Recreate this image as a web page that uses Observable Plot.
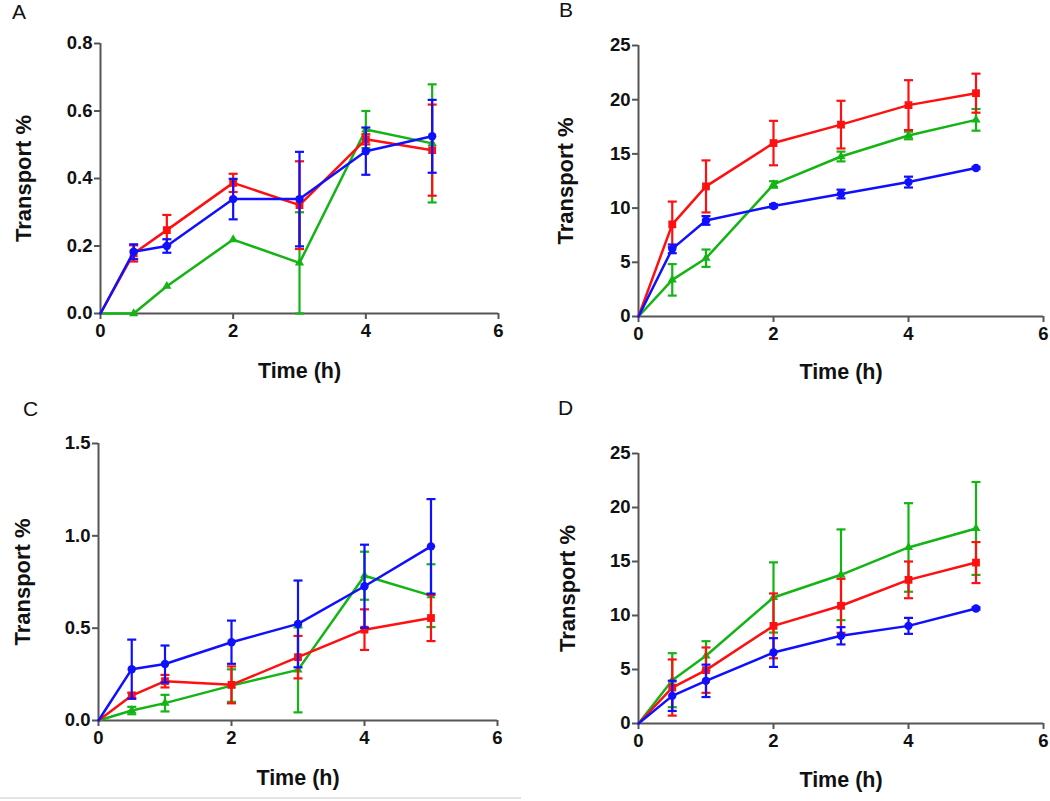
<!DOCTYPE html>
<html>
<head>
<meta charset="utf-8">
<script src="https://cdn.jsdelivr.net/npm/d3@7"></script>
<script src="https://cdn.jsdelivr.net/npm/@observablehq/plot@0.6"></script>
<style>
  html, body { margin: 0; padding: 0; background: #fff; }
  body { width: 1050px; height: 801px; position: relative; overflow: hidden; font-family: "Liberation Sans", Arial, sans-serif; }
  .panel { position: absolute; }
  .letter { position: absolute; font-size: 21px; font-family: "Liberation Sans", Arial, sans-serif; color: #111; }
  .rule { position: absolute; left: 0; top: 797px; width: 521px; height: 2px; background: #e4e4e4; }
</style>
</head>
<body>
<script>
// ---------- data ----------
const times = [0, 0.5, 1, 2, 3, 4, 5];
const xTicks = [0, 2, 4, 6];
const panelLetters = ["A", "B", "C", "D"];
const seriesNames = ["green", "red", "blue"];
const seriesColors = ["#14b414", "#ff1010", "#1010ff"];
const seriesSymbols = ["triangle", "square", "circle"];
const xLabel = "Time (h)";
const yLabel = "Transport %";

// Panel A
const aGreen = [0, 0, 0.081, 0.219, 0.15, 0.545, 0.504];
const aGreenErr = [0, 0, 0, 0, 0.15, 0.055, 0.175];
const aRed = [0, 0.178, 0.247, 0.387, 0.321, 0.516, 0.484];
const aRedErr = [0, 0.024, 0.045, 0.027, 0.13, 0.015, 0.135];
const aBlue = [0, 0.183, 0.2, 0.339, 0.339, 0.481, 0.525];
const aBlueErr = [0, 0.022, 0.02, 0.06, 0.14, 0.07, 0.108];
const aTicks = [0, 0.2, 0.4, 0.6, 0.8];

// Panel B
const bGreen = [0, 3.38, 5.38, 12.18, 14.76, 16.7, 18.14];
const bGreenErr = [0, 1.45, 0.8, 0.3, 0.45, 0.35, 1.0];
const bRed = [0, 8.5, 12.0, 16.0, 17.7, 19.5, 20.6];
const bRedErr = [0, 2.1, 2.4, 2.05, 2.2, 2.3, 1.8];
const bBlue = [0, 6.24, 8.86, 10.2, 11.3, 12.4, 13.7];
const bBlueErr = [0, 0.4, 0.4, 0.15, 0.4, 0.5, 0.1];
const bTicks = [0, 5, 10, 15, 20, 25];

// Panel C
const cGreen = [0, 0.054, 0.094, 0.189, 0.274, 0.784, 0.676];
const cGreenErr = [0, 0.02, 0.045, 0.088, 0.23, 0.13, 0.17];
const cRed = [0, 0.135, 0.213, 0.193, 0.343, 0.492, 0.555];
const cRedErr = [0, 0.015, 0.034, 0.1, 0.115, 0.11, 0.125];
const cBlue = [0, 0.278, 0.306, 0.424, 0.523, 0.727, 0.943];
const cBlueErr = [0, 0.16, 0.1, 0.117, 0.235, 0.225, 0.256];
const cTicks = [0, 0.5, 1.0, 1.5];

// Panel D
const dGreen = [0, 4.01, 6.27, 11.67, 13.77, 16.3, 18.06];
const dGreenErr = [0, 2.5, 1.35, 3.25, 4.2, 4.1, 4.3];
const dRed = [0, 3.33, 4.94, 9.04, 10.9, 13.3, 14.9];
const dRedErr = [0, 2.6, 2.1, 3.0, 2.5, 1.7, 1.9];
const dBlue = [0, 2.56, 3.95, 6.57, 8.12, 9.04, 10.65];
const dBlueErr = [0, 1.4, 1.5, 1.33, 0.8, 0.74, 0.1];
const dTicks = [0, 5, 10, 15, 20, 25];

// ---------- drawing ----------
const capSymbol = {
  draw(context) {
    context.moveTo(-4.5, 0);
    context.lineTo(4.5, 0);
  }
};

const axisColor = "#555";
const FONT = "Liberation Sans, Arial, sans-serif";

function rowsFor(values, errs, name) {
  return times.map((t, i) => ({t, v: values[i], e: errs[i], series: name}));
}

function makePanel(cfg) {
  const seriesData = [
    rowsFor(cfg.green, cfg.greenErr, "green"),
    rowsFor(cfg.red, cfg.redErr, "red"),
    rowsFor(cfg.blue, cfg.blueErr, "blue")
  ];
  const marks = [
    Plot.ruleY([0], {stroke: axisColor, strokeWidth: 2}),
    Plot.ruleX([0], {stroke: axisColor, strokeWidth: 2}),
    Plot.axisX({ticks: xTicks, tickSize: 6, tickPadding: 4, fontSize: 18.5, fontWeight: "bold", stroke: axisColor, strokeWidth: 2, fill: "#111", label: null, tickFormat: d3.format("d")}),
    Plot.axisY({ticks: cfg.ticks, tickSize: 6, tickPadding: 2, fontSize: 18.5, fontWeight: "bold", stroke: axisColor, strokeWidth: 2, fill: "#111", label: null, tickFormat: cfg.fmt}),
    Plot.text([xLabel], {frameAnchor: "bottom", dy: cfg.timeDy, lineAnchor: "middle", fontSize: 21.5, fontWeight: "bold", fill: "#111"}),
    Plot.text([yLabel], {frameAnchor: "left", dx: cfg.yLabelDx, rotate: -90, lineAnchor: "middle", textAnchor: "middle", fontSize: 22, fontWeight: "bold", fill: "#111"})
  ];
  seriesData.forEach((rows, k) => {
    const col = seriesColors[k];
    const withErr = rows.filter(d => d.e > 0);
    const pts = rows.filter(d => d.t > 0);
    marks.push(
      Plot.line(rows, {x: "t", y: "v", stroke: col, strokeWidth: 2.5}),
      Plot.ruleX(withErr, {x: "t", y1: d => d.v - d.e, y2: d => d.v + d.e, stroke: col, strokeWidth: 2.2}),
      Plot.dot(withErr, {x: "t", y: d => d.v + d.e, symbol: capSymbol, r: 5, stroke: col, strokeWidth: 2.2, fill: "none"}),
      Plot.dot(withErr, {x: "t", y: d => d.v - d.e, symbol: capSymbol, r: 5, stroke: col, strokeWidth: 2.2, fill: "none"}),
      Plot.dot(pts, {x: "t", y: "v", symbol: seriesSymbols[k], r: k === 0 ? 3.4 : (k === 1 ? 4.4 : 4.2), fill: col, stroke: "none"})
    );
  });
  const svg = Plot.plot({
    width: cfg.w, height: cfg.h,
    marginLeft: cfg.ml, marginRight: cfg.mr, marginTop: cfg.mt, marginBottom: cfg.mb,
    x: {domain: [0, 6], axis: null},
    y: {domain: [0, cfg.ticks[cfg.ticks.length - 1]], axis: null},
    style: {fontFamily: FONT, background: "transparent", overflow: "visible"},
    marks
  });
  const wrap = document.createElement("div");
  wrap.className = "panel";
  wrap.style.left = cfg.left + "px";
  wrap.style.top = cfg.top + "px";
  wrap.appendChild(svg);
  document.body.appendChild(wrap);
  const letter = document.createElement("div");
  letter.className = "letter";
  letter.textContent = cfg.letter;
  letter.style.left = cfg.lx + "px";
  letter.style.top = cfg.ly + "px";
  document.body.appendChild(letter);
}

const fmt1 = d3.format(".1f");
const fmt0 = d3.format("d");

makePanel({letter: panelLetters[0], lx: 12, ly: 0, left: 0, top: 0, w: 525, h: 395, ml: 100, mr: 27, mt: 43, mb: 82,
  green: aGreen, greenErr: aGreenErr, red: aRed, redErr: aRedErr, blue: aBlue, blueErr: aBlueErr,
  ticks: aTicks, fmt: fmt1, timeDy: 58, yLabelDx: -77});
makePanel({letter: panelLetters[1], lx: 559, ly: -2, left: 525, top: 0, w: 525, h: 395, ml: 113, mr: 7, mt: 45, mb: 79,
  green: bGreen, greenErr: bGreenErr, red: bRed, redErr: bRedErr, blue: bBlue, blueErr: bBlueErr,
  ticks: bTicks, fmt: fmt0, timeDy: 56, yLabelDx: -73});
makePanel({letter: panelLetters[2], lx: 23, ly: 397, left: 0, top: 400, w: 525, h: 401, ml: 98, mr: 28, mt: 43, mb: 81,
  green: cGreen, greenErr: cGreenErr, red: cRed, redErr: cRedErr, blue: cBlue, blueErr: cBlueErr,
  ticks: cTicks, fmt: fmt1, timeDy: 58, yLabelDx: -76});
makePanel({letter: panelLetters[3], lx: 558, ly: 396, left: 525, top: 400, w: 525, h: 401, ml: 113, mr: 7, mt: 53, mb: 78,
  green: dGreen, greenErr: dGreenErr, red: dRed, redErr: dRedErr, blue: dBlue, blueErr: dBlueErr,
  ticks: dTicks, fmt: fmt0, timeDy: 57, yLabelDx: -71});

const r = document.createElement("div");
r.className = "rule";
document.body.appendChild(r);
</script>
</body>
</html>
